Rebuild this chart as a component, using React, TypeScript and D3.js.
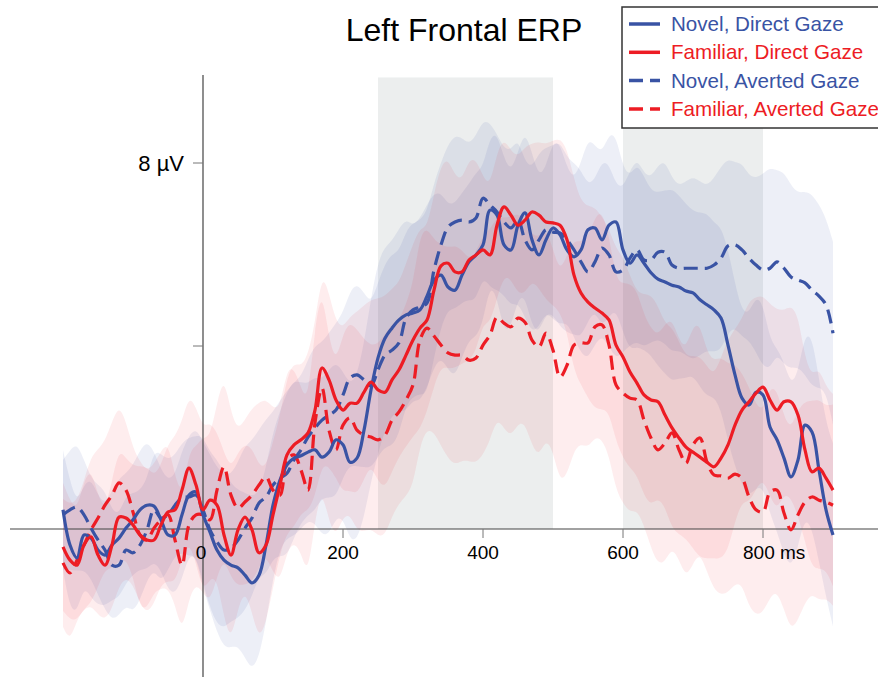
import React, { useEffect, useRef } from "react";
import * as d3 from "d3";

// sample times, ms (10 ms steps)
const times = d3.range(-200, 901, 10);

// mean amplitudes, µV
const novelDirect = [
  0.42, -0.35, -0.63, -0.13, -0.2, -0.46, -0.57, -0.35, -0.2, 0.02,
  0.2, 0.42, 0.52, 0.5, 0.2, -0.13, -0.13, 0.31, 0.74, 0.81,
  0.31, -0.07, -0.46, -0.68, -0.79, -0.85, -1.01, -1.18, -1.01, -0.35,
  0.52, 1.07, 1.4, 1.55, 1.6, 1.68, 1.73, 1.57, 1.68, 1.95,
  1.84, 1.46, 1.55, 2.16, 3.04, 3.74, 4.17, 4.39, 4.57, 4.68,
  4.72, 4.79, 5.09, 5.44, 5.55, 5.29, 5.22, 5.55, 5.84, 5.99,
  6.21, 6.97, 6.86, 6.21, 6.1, 6.64, 6.91, 6.32, 5.99, 6.32,
  6.58, 6.43, 6.1, 5.95, 6.1, 6.54, 6.58, 6.32, 6.64, 6.71,
  6.1, 5.81, 5.99, 5.81, 5.6, 5.46, 5.4, 5.33, 5.29, 5.2,
  5.16, 5.01, 4.9, 4.79, 4.61, 4.02, 3.37, 2.86, 2.71, 2.99,
  2.93, 2.23, 1.95, 1.55, 1.14, 1.51, 2.27, 2.12, 1.29, 0.42,
  -0.13,
];

const familiarDirect = [
  -0.39, -0.68, -0.79, -0.35, -0.17, -0.57, -0.79, -0.35, 0.26, 0.24,
  0.09, -0.13, -0.24, -0.24, 0.09, 0.37, 0.42, 0.85, 1.33, 0.96,
  0.42, 0.63, 0.52, -0.13, -0.57, -0.02, 0.26, -0.02, -0.52, -0.35,
  0.31, 0.96, 1.62, 1.84, 1.95, 2.1, 2.6, 3.52, 3.26, 2.82,
  2.6, 2.75, 2.75, 2.99, 3.21, 3.04, 2.99, 3.26, 3.48, 3.8,
  4.13, 4.39, 4.57, 5.22, 5.75, 5.81, 5.62, 5.62, 5.88, 5.99,
  6.1, 5.99, 6.64, 7.04, 6.86, 6.64, 6.75, 6.93, 6.86, 6.71,
  6.69, 6.64, 6.32, 5.55, 5.16, 4.96, 4.83, 4.72, 4.57, 4.02,
  3.76, 3.43, 3.19, 2.93, 2.82, 2.78, 2.49, 2.21, 1.99, 1.79,
  1.68, 1.57, 1.46, 1.36, 1.55, 1.84, 2.27, 2.6, 2.78, 2.97,
  3.1, 2.82, 2.6, 2.78, 2.78, 2.49, 1.73, 1.25, 1.33, 1.11,
  0.85,
];

const novelAverted = [
  0.31, 0.42, 0.48, 0.31, 0.02, -0.24, -0.46, -0.79, -0.79, -0.46,
  -0.52, -0.35, -0.02, 0.42, 0.24, 0.31, 0.52, 0.68, 0.7, 0.74,
  0.42, -0.02, -0.28, -0.46, -0.42, -0.24, 0.02, 0.24, 0.57, 0.7,
  0.96, 1.11, 1.22, 1.51, 1.73, 2.01, 2.21, 2.38, 2.49, 2.6,
  2.93, 3.3, 3.37, 3.26, 3.13, 3.48, 3.8, 3.91, 4.07, 4.61,
  4.79, 4.85, 4.94, 5.66, 6.21, 6.6, 6.71, 6.75, 6.71, 6.8,
  7.23, 7.08, 6.93, 6.71, 6.58, 6.75, 6.32, 6.1, 6.32, 6.54,
  6.49, 6.47, 6.32, 6.1, 5.84, 5.62, 5.84, 6.14, 5.99, 5.62,
  5.66, 5.92, 6.1, 5.88, 5.88, 6.05, 6.05, 5.77, 5.7, 5.7,
  5.7, 5.7, 5.7, 5.77, 5.92, 6.19, 6.21, 6.1, 5.92, 5.77,
  5.66, 5.7, 5.84, 5.7, 5.51, 5.44, 5.38, 5.22, 5.09, 4.9,
  4.28,
];

const familiarAverted = [
  -0.74, -0.96, -0.68, -0.35, -0.02, 0.24, 0.52, 0.74, 1.01, 0.85,
  0.37, -0.13, -0.24, 0.02, 0.2, 0.31, -0.24, -0.79, 0.09, 0.31,
  0.31, 0.2, 0.85, 1.36, 0.74, 0.46, 0.59, 0.74, 0.96, 1.14,
  0.85, 0.74, 1.51, 1.62, 1.29, 0.85, 2.32, 3.08, 2.16, 1.73,
  2.27, 2.43, 2.16, 2.05, 2.01, 1.95, 2.05, 2.38, 2.56, 2.82,
  3.15, 4.13, 4.39, 4.22, 4.02, 3.85, 3.8, 3.8, 3.69, 3.74,
  4.02, 4.24, 4.63, 4.5, 4.42, 4.61, 4.52, 4.13, 3.98, 4.28,
  3.91, 3.32, 3.58, 4.02, 4.07, 4.07, 4.42, 4.46, 4.02, 3.15,
  2.97, 2.86, 2.82, 2.38, 1.99, 1.73, 1.88, 2.1, 1.73, 1.44,
  1.84, 1.99, 1.46, 1.18, 1.16, 1.11, 1.2, 1.11, 0.7, 0.42,
  0.37, 0.81, 0.85, 0.35, -0.02, 0.31, 0.59, 0.7, 0.63, 0.59,
  0.52,
];

// standard errors, µV (half width of shaded bands)
const seNovelDirect = [
  1.3, 1.4, 1.2, 1.1, 1.3, 1.2, 1.1, 1.2, 1.3, 1.2,
  1.2, 1.3, 1.4, 1.2, 1.1, 1.2, 1.3, 1.4, 1.3, 1.4,
  1.6, 1.7, 1.8, 1.9, 1.8, 1.7, 1.8, 1.9, 1.8, 1.7,
  1.6, 1.5, 1.6, 1.7, 1.6, 1.5, 1.6, 1.7, 1.8, 1.7,
  1.6, 1.7, 1.8, 1.9, 2.0, 2.1, 2.0, 1.9, 2.0, 2.1,
  1.9, 2.0, 2.0, 1.9, 1.8, 1.8, 1.9, 1.8, 1.7, 1.8,
  1.7, 1.6, 1.8, 1.9, 1.7, 1.6, 1.8, 1.9, 1.7, 1.6,
  1.9, 2.0, 1.8, 1.7, 1.9, 2.0, 1.8, 1.9, 2.0, 1.9,
  1.8, 1.9, 2.0, 1.9, 1.8, 1.9, 2.0, 2.1, 2.0, 1.9,
  1.8, 1.9, 2.0, 1.9, 2.0, 2.1, 2.0, 1.9, 2.0, 2.1,
  2.0, 1.9, 2.0, 2.1, 2.0, 1.9, 2.0, 2.1, 2.0, 1.9,
  2.0,
];

const seFamiliarDirect = [
  1.4, 1.3, 1.2, 1.4, 1.5, 1.3, 1.2, 1.4, 1.5, 1.3,
  1.3, 1.5, 1.6, 1.4, 1.3, 1.5, 1.6, 1.5, 1.6, 1.7,
  1.8, 1.7, 1.6, 1.8, 1.9, 1.7, 1.6, 1.8, 1.9, 1.7,
  1.6, 1.5, 1.7, 1.8, 1.6, 1.7, 1.9, 2.1, 1.9, 1.7,
  1.8, 1.9, 2.0, 1.9, 1.8, 2.0, 2.1, 2.0, 1.9, 2.0,
  2.1, 2.2, 2.0, 2.1, 2.2, 2.3, 2.1, 2.0, 2.2, 2.1,
  1.6, 1.5, 1.6, 1.5, 1.4, 1.5, 1.6, 1.5, 1.6, 1.7,
  1.8, 1.9, 2.0, 2.1, 2.0, 2.1, 2.2, 2.1, 2.0, 2.1,
  2.2, 2.1, 2.0, 2.2, 2.3, 2.1, 2.0, 2.2, 2.1, 2.0,
  2.1, 2.2, 2.1, 2.0, 2.2, 2.3, 2.1, 2.0, 2.2, 2.1,
  2.0, 2.1, 2.2, 2.0, 2.1, 2.2, 2.0, 2.1, 2.2, 2.0,
  2.1,
];

const seNovelAverted = [
  1.2, 1.3, 1.4, 1.2, 1.1, 1.2, 1.3, 1.2, 1.1, 1.2,
  1.3, 1.2, 1.1, 1.3, 1.4, 1.2, 1.1, 1.2, 1.3, 1.3,
  1.6, 1.7, 1.8, 1.7, 1.6, 1.7, 1.8, 1.7, 1.6, 1.7,
  1.6, 1.7, 1.8, 1.7, 1.6, 1.7, 1.8, 1.7, 1.8, 1.9,
  1.8, 1.9, 2.0, 1.9, 1.8, 1.9, 2.0, 2.1, 2.0, 1.9,
  1.9, 1.9, 2.0, 1.9, 1.8, 1.8, 1.9, 1.8, 1.7, 1.8,
  1.7, 1.8, 1.7, 1.6, 1.7, 1.8, 1.7, 1.8, 1.9, 1.8,
  1.9, 2.0, 1.8, 1.9, 2.0, 1.9, 1.8, 1.9, 2.0, 1.9,
  1.8, 1.9, 2.0, 1.9, 1.8, 1.9, 2.0, 1.9, 1.8, 1.9,
  2.0, 1.9, 1.8, 1.9, 2.0, 1.9, 1.8, 1.9, 1.8, 1.9,
  2.1, 2.2, 2.0, 2.1, 2.0, 1.9, 2.0, 2.1, 2.0, 1.9,
  2.0,
];

const seFamiliarAverted = [
  1.4, 1.5, 1.3, 1.4, 1.6, 1.5, 1.4, 1.6, 1.7, 1.5,
  1.4, 1.6, 1.5, 1.4, 1.5, 1.6, 1.4, 1.5, 1.6, 1.5,
  1.7, 1.8, 1.9, 2.0, 1.8, 1.7, 1.8, 1.9, 1.8, 1.7,
  1.8, 1.9, 2.0, 1.9, 1.8, 1.9, 2.1, 2.2, 2.0, 1.9,
  2.0, 2.1, 2.2, 2.1, 2.0, 2.1, 2.2, 2.1, 2.0, 2.1,
  2.2, 2.3, 2.2, 2.1, 2.2, 2.3, 2.4, 2.3, 2.2, 2.3,
  2.4, 2.3, 2.2, 2.3, 2.4, 2.3, 2.2, 2.3, 2.4, 2.3,
  2.2, 2.3, 2.4, 2.3, 2.2, 2.3, 2.4, 2.5, 2.4, 2.3,
  2.4, 2.5, 2.4, 2.3, 2.4, 2.5, 2.6, 2.5, 2.4, 2.5,
  2.6, 2.5, 2.4, 2.5, 2.6, 2.5, 2.4, 2.3, 2.4, 2.3,
  2.2, 2.3, 2.2, 2.1, 2.2, 2.3, 2.2, 2.1, 2.2, 2.1,
  2.2,
];

const xTicks = [0, 200, 400, 600, 800];
const yTicks = [4, 8];
const windows = [[250, 500], [600, 800]];

const BLUE = "#3953a4";
const RED = "#ed1c24";

const series = [
  { name: "Novel, Direct Gaze", values: novelDirect, se: seNovelDirect, color: BLUE, dashed: false },
  { name: "Familiar, Direct Gaze", values: familiarDirect, se: seFamiliarDirect, color: RED, dashed: false },
  { name: "Novel, Averted Gaze", values: novelAverted, se: seNovelAverted, color: BLUE, dashed: true },
  { name: "Familiar, Averted Gaze", values: familiarAverted, se: seFamiliarAverted, color: RED, dashed: true },
];

const W = 878;
const H = 677;
const FONT = "'Liberation Sans', Arial, Helvetica, sans-serif";

export default function App() {
  const ref = useRef<SVGSVGElement | null>(null);

  useEffect(() => {
    const svg = d3.select(ref.current);
    svg.selectAll("*").remove();

    const x = d3.scaleLinear().domain([-200, 900]).range([63, 833]);
    const y = d3.scaleLinear().domain([0, 8]).range([529, 163]);

    svg.append("rect").attr("width", W).attr("height", H).attr("fill", "#fff");

    // analysis windows
    svg.selectAll(".win")
      .data(windows)
      .enter().append("rect")
      .attr("x", d => x(d[0]))
      .attr("width", d => x(d[1]) - x(d[0]))
      .attr("y", y(9.87))
      .attr("height", d => y(0) - y(9.87))
      .attr("fill", "#eceeee");

    // standard error bands
    const area = d3.area<number>()
      .x((_, i) => x(times[i]))
      .curve(d3.curveBasis);

    series.forEach(s => {
      svg.append("path")
        .attr("d", area
          .y0((v, i) => y(v - s.se[i]))
          .y1((v, i) => y(v + s.se[i]))(s.values))
        .attr("fill", s.color)
        .attr("fill-opacity", s.color === BLUE ? 0.09 : 0.08);
    });

    // axes
    const axisColor = "#444";
    svg.append("line")
      .attr("x1", 10).attr("x2", W).attr("y1", y(0)).attr("y2", y(0))
      .attr("stroke", axisColor).attr("stroke-width", 1.2);
    svg.append("line")
      .attr("x1", x(0)).attr("x2", x(0)).attr("y1", 75).attr("y2", H)
      .attr("stroke", axisColor).attr("stroke-width", 1.2);

    svg.selectAll(".xt")
      .data(xTicks.filter(t => t !== 0))
      .enter().append("line")
      .attr("x1", d => x(d)).attr("x2", d => x(d))
      .attr("y1", y(0)).attr("y2", y(0) + 9)
      .attr("stroke", "#777").attr("stroke-width", 1);

    svg.selectAll(".xl")
      .data(xTicks)
      .enter().append("text")
      .attr("x", d => (d === 0 ? x(d) - 2 : d === 800 ? x(d) - 20 : x(d)))
      .attr("y", 559)
      .attr("text-anchor", d => (d === 800 ? "start" : "middle"))
      .attr("font-family", FONT)
      .attr("font-size", 19)
      .text(d => (d === 800 ? d + " ms" : String(d)));

    svg.selectAll(".yt")
      .data(yTicks)
      .enter().append("line")
      .attr("x1", x(0) - 10).attr("x2", x(0))
      .attr("y1", d => y(d)).attr("y2", d => y(d))
      .attr("stroke", "#777").attr("stroke-width", 1);

    svg.append("text")
      .attr("x", 184).attr("y", y(8) + 8)
      .attr("text-anchor", "end")
      .attr("font-family", FONT)
      .attr("font-size", 22)
      .text(yTicks[1] + " µV");

    // mean waveforms
    const line = d3.line<number>()
      .x((_, i) => x(times[i]))
      .y(v => y(v))
      .curve(d3.curveCatmullRom.alpha(0.5));

    [2, 3, 0, 1].forEach(k => {
      const s = series[k];
      svg.append("path")
        .attr("d", line(s.values))
        .attr("fill", "none")
        .attr("stroke", s.color)
        .attr("stroke-width", 3.2)
        .attr("stroke-dasharray", s.dashed ? "14,7" : null)
        .attr("stroke-linejoin", "round");
    });

    // title
    svg.append("text")
      .attr("x", 464).attr("y", 41)
      .attr("text-anchor", "middle")
      .attr("font-family", FONT)
      .attr("font-size", 32)
      .text("Left Frontal ERP");

    // legend
    const lg = svg.append("g");
    lg.append("rect")
      .attr("x", 622).attr("y", 7).attr("width", 290).attr("height", 121)
      .attr("fill", "#fff").attr("stroke", "#333").attr("stroke-width", 1.5);
    series.forEach((s, i) => {
      const cy = 24 + i * 28.3;
      lg.append("line")
        .attr("x1", 629).attr("x2", 660).attr("y1", cy).attr("y2", cy)
        .attr("stroke", s.color).attr("stroke-width", 3.5)
        .attr("stroke-dasharray", s.dashed ? "14,7" : null);
      lg.append("text")
        .attr("x", 671).attr("y", cy + 7)
        .attr("font-family", FONT)
        .attr("font-size", 20.6)
        .attr("fill", s.color)
        .text(s.name);
    });
  }, []);

  return (
    <svg
      ref={ref}
      width={W}
      height={H}
      style={{ position: "absolute", left: 0, top: 0, display: "block" }}
    />
  );
}
